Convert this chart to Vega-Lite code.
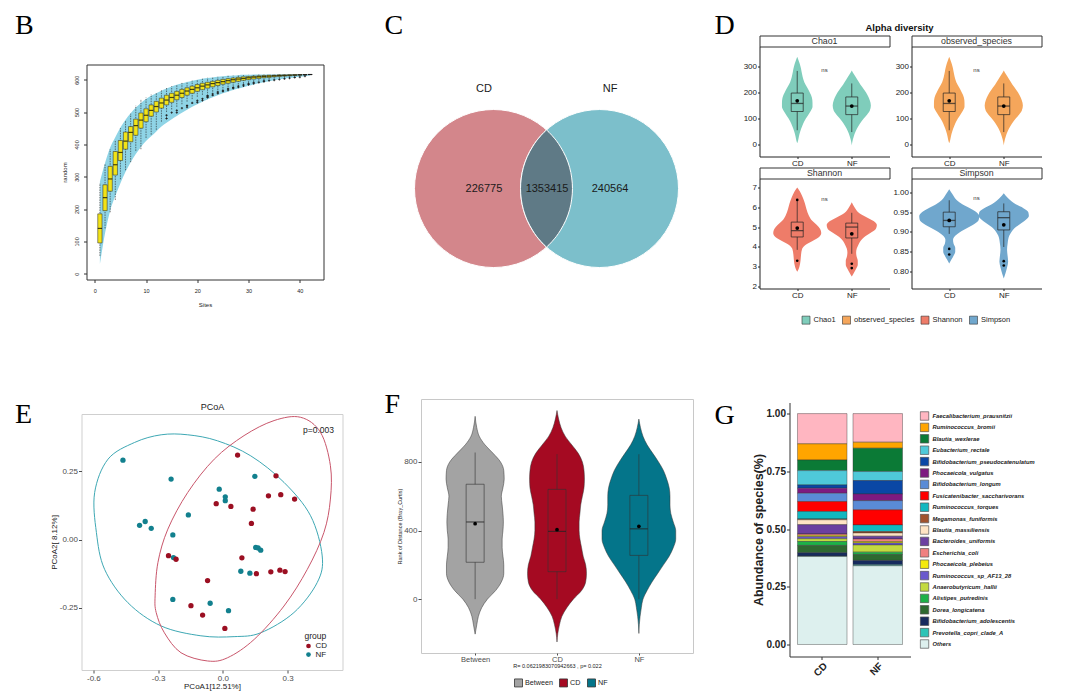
{
"$schema":"https://vega.github.io/schema/vega-lite/v6.json",
"background":"white",
"padding":{"left":13.5,"top":10.5,"right":4,"bottom":2},
"config":{
 "view":{"stroke":null},
 "font":"Liberation Sans",
 "axis":{"minExtent":0,"grid":false,"labelFlush":false,"labelOverlap":false,"titleFontWeight":"normal"},
 "legend":{"labelFont":"Liberation Sans","titleFont":"Liberation Sans"}
},
"datasets":{
 "spec":[
  {"s":1,"lo":55,"q1":95,"md":140,"q3":185,"hi":280,"bl":30,"bh":285},
  {"s":2,"lo":140,"q1":195,"md":235,"q3":275,"hi":340,"bl":125,"bh":342},
  {"s":3,"lo":190,"q1":255,"md":293,"q3":332,"hi":385,"bl":195,"bh":390},
  {"s":4,"lo":228,"q1":305,"md":337,"q3":378,"hi":412,"bl":240,"bh":422},
  {"s":5,"lo":292,"q1":350,"md":375,"q3":412,"hi":450,"bl":280,"bh":452},
  {"s":6,"lo":320,"q1":385,"md":410,"q3":438,"hi":472,"bl":315,"bh":476},
  {"s":7,"lo":345,"q1":408,"md":437,"q3":455,"hi":495,"bl":345,"bh":496},
  {"s":8,"lo":380,"q1":428,"md":458,"q3":478,"hi":520,"bl":370,"bh":514},
  {"s":9,"lo":385,"q1":450,"md":475,"q3":497,"hi":540,"bl":392,"bh":528},
  {"s":10,"lo":420,"q1":470,"md":490,"q3":510,"hi":545,"bl":410,"bh":540},
  {"s":11,"lo":430,"q1":487,"md":505,"q3":522,"hi":555,"bl":425,"bh":550},
  {"s":12,"lo":445,"q1":500,"md":517,"q3":533,"hi":560,"bl":440,"bh":558},
  {"s":13,"lo":470,"q1":512,"md":528,"q3":543,"hi":567,"bl":455,"bh":566},
  {"s":14,"lo":500,"q1":522,"md":537,"q3":552,"hi":575,"bl":467,"bh":573},
  {"s":15,"lo":508,"q1":530,"md":545,"q3":558,"hi":580,"bl":478,"bh":579},
  {"s":16,"lo":516,"q1":538,"md":552,"q3":564,"hi":585,"bl":488,"bh":584},
  {"s":17,"lo":524,"q1":545,"md":558,"q3":570,"hi":590,"bl":498,"bh":589},
  {"s":18,"lo":532,"q1":552,"md":565,"q3":575,"hi":594,"bl":507,"bh":593},
  {"s":19,"lo":540,"q1":558,"md":570,"q3":580,"hi":597,"bl":516,"bh":597},
  {"s":20,"lo":547,"q1":564,"md":575,"q3":585,"hi":600,"bl":524,"bh":600},
  {"s":21,"lo":553,"q1":569,"md":580,"q3":589,"hi":603,"bl":532,"bh":603},
  {"s":22,"lo":558,"q1":574,"md":584,"q3":592,"hi":606,"bl":539,"bh":605},
  {"s":23,"lo":563,"q1":578,"md":588,"q3":595,"hi":608,"bl":546,"bh":607},
  {"s":24,"lo":568,"q1":582,"md":591,"q3":598,"hi":609,"bl":552,"bh":609},
  {"s":25,"lo":573,"q1":586,"md":594,"q3":601,"hi":611,"bl":558,"bh":611},
  {"s":26,"lo":577,"q1":589,"md":597,"q3":603,"hi":612,"bl":563,"bh":612},
  {"s":27,"lo":581,"q1":592,"md":600,"q3":605,"hi":613,"bl":568,"bh":613},
  {"s":28,"lo":585,"q1":595,"md":602,"q3":607,"hi":614,"bl":573,"bh":614},
  {"s":29,"lo":588,"q1":598,"md":604,"q3":609,"hi":614,"bl":577,"bh":615},
  {"s":30,"lo":591,"q1":600,"md":606,"q3":610,"hi":615,"bl":581,"bh":615},
  {"s":31,"lo":594,"q1":602,"md":608,"q3":611,"hi":615,"bl":585,"bh":616},
  {"s":32,"lo":597,"q1":604,"md":609,"q3":612,"hi":616,"bl":589,"bh":616},
  {"s":33,"lo":599,"q1":606,"md":610,"q3":613,"hi":616,"bl":592,"bh":616},
  {"s":34,"lo":601,"q1":607,"md":611,"q3":614,"hi":616,"bl":595,"bh":616},
  {"s":35,"lo":603,"q1":609,"md":612,"q3":614,"hi":616,"bl":598,"bh":616},
  {"s":36,"lo":605,"q1":610,"md":613,"q3":615,"hi":616,"bl":601,"bh":616},
  {"s":37,"lo":607,"q1":611,"md":613.5,"q3":615,"hi":616,"bl":603,"bh":616},
  {"s":38,"lo":609,"q1":612,"md":614,"q3":615.5,"hi":616,"bl":605,"bh":616},
  {"s":39,"lo":610,"q1":613,"md":614.5,"q3":616,"hi":616,"bl":607,"bh":616},
  {"s":40,"lo":611,"q1":614,"md":615,"q3":616,"hi":616,"bl":609,"bh":616},
  {"s":41,"lo":613,"q1":615,"md":615.5,"q3":616,"hi":616,"bl":611,"bh":616},
  {"s":42,"lo":616,"q1":616,"md":616,"q3":616,"hi":616,"bl":613,"bh":616}
 ],
 "specout":[
  {"s":14,"v":490},{"s":14,"v":480},{"s":15,"v":498},{"s":16,"v":505},{"s":16,"v":498},{"s":17,"v":512},{"s":18,"v":520},{"s":18,"v":515},{"s":19,"v":528},{"s":20,"v":535},{"s":20,"v":530},{"s":21,"v":541},{"s":21,"v":536},{"s":22,"v":548},{"s":22,"v":545},{"s":22,"v":551},{"s":23,"v":552},{"s":23,"v":556},{"s":24,"v":558},{"s":24,"v":562},{"s":25,"v":564},{"s":25,"v":567},{"s":26,"v":568},{"s":26,"v":572},{"s":27,"v":573},{"s":27,"v":576},{"s":28,"v":577},{"s":28,"v":580},{"s":29,"v":581},{"s":29,"v":584},{"s":30,"v":585},{"s":30,"v":588},{"s":31,"v":588},{"s":31,"v":591},{"s":32,"v":592},{"s":33,"v":594},{"s":33,"v":596},{"s":34,"v":597},{"s":35,"v":599},{"s":36,"v":601},{"s":37,"v":603},{"s":38,"v":605},{"s":39,"v":607},{"s":40,"v":608},{"s":41,"v":611}
 ],
 "venn":[{"set":"CD","cx":0,"cy":0},{"set":"NF","cx":1,"cy":0}],
 "lens":[
  {"ly":0.5523,"a":0.5,"b":0.5},{"ly":0.545,"a":0.492,"b":0.508},{"ly":0.53,"a":0.476,"b":0.524},{"ly":0.5,"a":0.448,"b":0.552},{"ly":0.45,"a":0.406,"b":0.594},{"ly":0.4,"a":0.372,"b":0.628},{"ly":0.3,"a":0.318,"b":0.682},{"ly":0.2,"a":0.282,"b":0.718},{"ly":0.1,"a":0.262,"b":0.738},{"ly":0,"a":0.255,"b":0.745},{"ly":-0.1,"a":0.262,"b":0.738},{"ly":-0.2,"a":0.282,"b":0.718},{"ly":-0.3,"a":0.318,"b":0.682},{"ly":-0.4,"a":0.372,"b":0.628},{"ly":-0.45,"a":0.406,"b":0.594},{"ly":-0.5,"a":0.448,"b":0.552},{"ly":-0.53,"a":0.476,"b":0.524},{"ly":-0.545,"a":0.492,"b":0.508},{"ly":-0.5523,"a":0.5,"b":0.5}
 ],
 "vlab":[{"t":"CD","cx":-0.09,"cy":0.934},{"t":"NF","cx":1.1,"cy":0.934},{"t":"226775","cx":-0.09,"cy":0},{"t":"1353415","cx":0.505,"cy":0},{"t":"240564","cx":1.1,"cy":0}],
 "dviol":[
  {"m":"Chao1","g":"CD","v":338,"l":1,"r":1},{"m":"Chao1","g":"CD","v":320,"l":0.97,"r":1.03},{"m":"Chao1","g":"CD","v":300,"l":0.94,"r":1.06},{"m":"Chao1","g":"CD","v":280,"l":0.92,"r":1.08},{"m":"Chao1","g":"CD","v":260,"l":0.9,"r":1.1},{"m":"Chao1","g":"CD","v":240,"l":0.87,"r":1.13},{"m":"Chao1","g":"CD","v":220,"l":0.82,"r":1.18},{"m":"Chao1","g":"CD","v":200,"l":0.77,"r":1.23},{"m":"Chao1","g":"CD","v":180,"l":0.73,"r":1.27},{"m":"Chao1","g":"CD","v":160,"l":0.72,"r":1.28},{"m":"Chao1","g":"CD","v":145,"l":0.72,"r":1.28},{"m":"Chao1","g":"CD","v":130,"l":0.75,"r":1.25},{"m":"Chao1","g":"CD","v":110,"l":0.81,"r":1.19},{"m":"Chao1","g":"CD","v":90,"l":0.87,"r":1.13},{"m":"Chao1","g":"CD","v":70,"l":0.91,"r":1.09},{"m":"Chao1","g":"CD","v":50,"l":0.945,"r":1.055},{"m":"Chao1","g":"CD","v":30,"l":0.97,"r":1.03},{"m":"Chao1","g":"CD","v":15,"l":0.985,"r":1.015},{"m":"Chao1","g":"CD","v":5,"l":1,"r":1},
  {"m":"Chao1","g":"NF","v":285,"l":2,"r":2},{"m":"Chao1","g":"NF","v":270,"l":1.96,"r":2.04},{"m":"Chao1","g":"NF","v":250,"l":1.9,"r":2.1},{"m":"Chao1","g":"NF","v":230,"l":1.84,"r":2.16},{"m":"Chao1","g":"NF","v":210,"l":1.77,"r":2.23},{"m":"Chao1","g":"NF","v":190,"l":1.71,"r":2.29},{"m":"Chao1","g":"NF","v":170,"l":1.67,"r":2.33},{"m":"Chao1","g":"NF","v":150,"l":1.65,"r":2.35},{"m":"Chao1","g":"NF","v":130,"l":1.67,"r":2.33},{"m":"Chao1","g":"NF","v":110,"l":1.74,"r":2.26},{"m":"Chao1","g":"NF","v":90,"l":1.82,"r":2.18},{"m":"Chao1","g":"NF","v":70,"l":1.88,"r":2.12},{"m":"Chao1","g":"NF","v":50,"l":1.93,"r":2.07},{"m":"Chao1","g":"NF","v":30,"l":1.965,"r":2.035},{"m":"Chao1","g":"NF","v":10,"l":1.99,"r":2.01},{"m":"Chao1","g":"NF","v":-4,"l":2,"r":2},
  {"m":"observed_species","g":"CD","v":338,"l":1,"r":1},{"m":"observed_species","g":"CD","v":320,"l":0.97,"r":1.03},{"m":"observed_species","g":"CD","v":300,"l":0.94,"r":1.06},{"m":"observed_species","g":"CD","v":280,"l":0.92,"r":1.08},{"m":"observed_species","g":"CD","v":260,"l":0.9,"r":1.1},{"m":"observed_species","g":"CD","v":240,"l":0.87,"r":1.13},{"m":"observed_species","g":"CD","v":220,"l":0.82,"r":1.18},{"m":"observed_species","g":"CD","v":200,"l":0.77,"r":1.23},{"m":"observed_species","g":"CD","v":180,"l":0.73,"r":1.27},{"m":"observed_species","g":"CD","v":160,"l":0.72,"r":1.28},{"m":"observed_species","g":"CD","v":145,"l":0.72,"r":1.28},{"m":"observed_species","g":"CD","v":130,"l":0.75,"r":1.25},{"m":"observed_species","g":"CD","v":110,"l":0.81,"r":1.19},{"m":"observed_species","g":"CD","v":90,"l":0.87,"r":1.13},{"m":"observed_species","g":"CD","v":70,"l":0.91,"r":1.09},{"m":"observed_species","g":"CD","v":50,"l":0.945,"r":1.055},{"m":"observed_species","g":"CD","v":30,"l":0.97,"r":1.03},{"m":"observed_species","g":"CD","v":15,"l":0.985,"r":1.015},{"m":"observed_species","g":"CD","v":5,"l":1,"r":1},
  {"m":"observed_species","g":"NF","v":285,"l":2,"r":2},{"m":"observed_species","g":"NF","v":270,"l":1.96,"r":2.04},{"m":"observed_species","g":"NF","v":250,"l":1.9,"r":2.1},{"m":"observed_species","g":"NF","v":230,"l":1.84,"r":2.16},{"m":"observed_species","g":"NF","v":210,"l":1.77,"r":2.23},{"m":"observed_species","g":"NF","v":190,"l":1.71,"r":2.29},{"m":"observed_species","g":"NF","v":170,"l":1.67,"r":2.33},{"m":"observed_species","g":"NF","v":150,"l":1.65,"r":2.35},{"m":"observed_species","g":"NF","v":130,"l":1.67,"r":2.33},{"m":"observed_species","g":"NF","v":110,"l":1.74,"r":2.26},{"m":"observed_species","g":"NF","v":90,"l":1.82,"r":2.18},{"m":"observed_species","g":"NF","v":70,"l":1.88,"r":2.12},{"m":"observed_species","g":"NF","v":50,"l":1.93,"r":2.07},{"m":"observed_species","g":"NF","v":30,"l":1.965,"r":2.035},{"m":"observed_species","g":"NF","v":10,"l":1.99,"r":2.01},{"m":"observed_species","g":"NF","v":-4,"l":2,"r":2},
  {"m":"Shannon","g":"CD","v":7.0,"l":1,"r":1},{"m":"Shannon","g":"CD","v":6.8,"l":0.95,"r":1.05},{"m":"Shannon","g":"CD","v":6.5,"l":0.9,"r":1.1},{"m":"Shannon","g":"CD","v":6.2,"l":0.86,"r":1.14},{"m":"Shannon","g":"CD","v":5.9,"l":0.83,"r":1.17},{"m":"Shannon","g":"CD","v":5.6,"l":0.79,"r":1.21},{"m":"Shannon","g":"CD","v":5.3,"l":0.72,"r":1.28},{"m":"Shannon","g":"CD","v":5.1,"l":0.64,"r":1.36},{"m":"Shannon","g":"CD","v":4.9,"l":0.58,"r":1.42},{"m":"Shannon","g":"CD","v":4.7,"l":0.56,"r":1.44},{"m":"Shannon","g":"CD","v":4.5,"l":0.6,"r":1.4},{"m":"Shannon","g":"CD","v":4.3,"l":0.72,"r":1.28},{"m":"Shannon","g":"CD","v":4.1,"l":0.85,"r":1.15},{"m":"Shannon","g":"CD","v":3.9,"l":0.91,"r":1.09},{"m":"Shannon","g":"CD","v":3.6,"l":0.93,"r":1.07},{"m":"Shannon","g":"CD","v":3.3,"l":0.94,"r":1.06},{"m":"Shannon","g":"CD","v":3.0,"l":0.96,"r":1.04},{"m":"Shannon","g":"CD","v":2.85,"l":0.98,"r":1.02},{"m":"Shannon","g":"CD","v":2.75,"l":1,"r":1},
  {"m":"Shannon","g":"NF","v":6.25,"l":2,"r":2},{"m":"Shannon","g":"NF","v":6.0,"l":1.95,"r":2.05},{"m":"Shannon","g":"NF","v":5.7,"l":1.86,"r":2.14},{"m":"Shannon","g":"NF","v":5.5,"l":1.73,"r":2.27},{"m":"Shannon","g":"NF","v":5.3,"l":1.6,"r":2.4},{"m":"Shannon","g":"NF","v":5.1,"l":1.54,"r":2.46},{"m":"Shannon","g":"NF","v":4.9,"l":1.56,"r":2.44},{"m":"Shannon","g":"NF","v":4.7,"l":1.66,"r":2.34},{"m":"Shannon","g":"NF","v":4.5,"l":1.77,"r":2.23},{"m":"Shannon","g":"NF","v":4.3,"l":1.84,"r":2.16},{"m":"Shannon","g":"NF","v":4.1,"l":1.88,"r":2.12},{"m":"Shannon","g":"NF","v":3.9,"l":1.91,"r":2.09},{"m":"Shannon","g":"NF","v":3.7,"l":1.92,"r":2.08},{"m":"Shannon","g":"NF","v":3.5,"l":1.91,"r":2.09},{"m":"Shannon","g":"NF","v":3.3,"l":1.89,"r":2.11},{"m":"Shannon","g":"NF","v":3.1,"l":1.89,"r":2.11},{"m":"Shannon","g":"NF","v":2.9,"l":1.92,"r":2.08},{"m":"Shannon","g":"NF","v":2.7,"l":1.96,"r":2.04},{"m":"Shannon","g":"NF","v":2.5,"l":2,"r":2},
  {"m":"Simpson","g":"CD","v":1.008,"l":1,"r":1},{"m":"Simpson","g":"CD","v":0.995,"l":0.94,"r":1.06},{"m":"Simpson","g":"CD","v":0.98,"l":0.86,"r":1.14},{"m":"Simpson","g":"CD","v":0.97,"l":0.76,"r":1.24},{"m":"Simpson","g":"CD","v":0.96,"l":0.62,"r":1.38},{"m":"Simpson","g":"CD","v":0.95,"l":0.5,"r":1.5},{"m":"Simpson","g":"CD","v":0.94,"l":0.45,"r":1.55},{"m":"Simpson","g":"CD","v":0.93,"l":0.46,"r":1.54},{"m":"Simpson","g":"CD","v":0.92,"l":0.54,"r":1.46},{"m":"Simpson","g":"CD","v":0.91,"l":0.67,"r":1.33},{"m":"Simpson","g":"CD","v":0.9,"l":0.8,"r":1.2},{"m":"Simpson","g":"CD","v":0.89,"l":0.89,"r":1.11},{"m":"Simpson","g":"CD","v":0.88,"l":0.93,"r":1.07},{"m":"Simpson","g":"CD","v":0.87,"l":0.92,"r":1.08},{"m":"Simpson","g":"CD","v":0.86,"l":0.89,"r":1.11},{"m":"Simpson","g":"CD","v":0.85,"l":0.89,"r":1.11},{"m":"Simpson","g":"CD","v":0.84,"l":0.92,"r":1.08},{"m":"Simpson","g":"CD","v":0.83,"l":0.96,"r":1.04},{"m":"Simpson","g":"CD","v":0.82,"l":1,"r":1},
  {"m":"Simpson","g":"NF","v":0.998,"l":2,"r":2},{"m":"Simpson","g":"NF","v":0.985,"l":1.92,"r":2.08},{"m":"Simpson","g":"NF","v":0.97,"l":1.78,"r":2.22},{"m":"Simpson","g":"NF","v":0.96,"l":1.64,"r":2.36},{"m":"Simpson","g":"NF","v":0.95,"l":1.55,"r":2.45},{"m":"Simpson","g":"NF","v":0.94,"l":1.54,"r":2.46},{"m":"Simpson","g":"NF","v":0.93,"l":1.6,"r":2.4},{"m":"Simpson","g":"NF","v":0.92,"l":1.7,"r":2.3},{"m":"Simpson","g":"NF","v":0.91,"l":1.8,"r":2.2},{"m":"Simpson","g":"NF","v":0.9,"l":1.86,"r":2.14},{"m":"Simpson","g":"NF","v":0.89,"l":1.9,"r":2.1},{"m":"Simpson","g":"NF","v":0.87,"l":1.93,"r":2.07},{"m":"Simpson","g":"NF","v":0.855,"l":1.94,"r":2.06},{"m":"Simpson","g":"NF","v":0.84,"l":1.93,"r":2.07},{"m":"Simpson","g":"NF","v":0.825,"l":1.92,"r":2.08},{"m":"Simpson","g":"NF","v":0.81,"l":1.94,"r":2.06},{"m":"Simpson","g":"NF","v":0.795,"l":1.97,"r":2.03},{"m":"Simpson","g":"NF","v":0.782,"l":2,"r":2}
 ],
 "dbox":[
  {"m":"Chao1","gx":1,"lo":55,"q1":127,"md":158,"q3":198,"hi":283,"mean":168},
  {"m":"Chao1","gx":2,"lo":48,"q1":115,"md":148,"q3":183,"hi":235,"mean":148},
  {"m":"observed_species","gx":1,"lo":55,"q1":127,"md":158,"q3":198,"hi":283,"mean":168},
  {"m":"observed_species","gx":2,"lo":48,"q1":115,"md":148,"q3":183,"hi":235,"mean":148},
  {"m":"Shannon","gx":1,"lo":3.85,"q1":4.5,"md":4.82,"q3":5.25,"hi":6.37,"mean":4.95},
  {"m":"Shannon","gx":2,"lo":3.65,"q1":4.45,"md":5.0,"q3":5.2,"hi":5.72,"mean":4.66},
  {"m":"Simpson","gx":1,"lo":0.895,"q1":0.913,"md":0.929,"q3":0.95,"hi":0.98,"mean":0.929},
  {"m":"Simpson","gx":2,"lo":0.862,"q1":0.905,"md":0.936,"q3":0.951,"hi":0.972,"mean":0.918}
 ],
 "dout":[
  {"m":"Shannon","gx":1,"v":3.3},{"m":"Shannon","gx":1,"v":6.37},{"m":"Shannon","gx":2,"v":3.15},{"m":"Shannon","gx":2,"v":2.93},
  {"m":"Simpson","gx":1,"v":0.857},{"m":"Simpson","gx":1,"v":0.843},{"m":"Simpson","gx":2,"v":0.826},{"m":"Simpson","gx":2,"v":0.815}
 ],
 "dns":[{"m":"Chao1","t":"ns","v":288},{"m":"observed_species","t":"ns","v":288},{"m":"Shannon","t":"ns","v":6.44},{"m":"Simpson","t":"ns","v":0.985}],
 "epts":[
  {"group":"NF","x":-0.463,"y":0.29},{"group":"NF","x":-0.24,"y":0.221},{"group":"NF","x":0.148,"y":0.231},{"group":"NF","x":-0.017,"y":0.184},{"group":"NF","x":0.011,"y":0.156},{"group":"NF","x":0.011,"y":0.142},{"group":"NF","x":-0.16,"y":0.09},{"group":"NF","x":-0.386,"y":0.052},{"group":"NF","x":-0.36,"y":0.066},{"group":"NF","x":-0.332,"y":0.041},{"group":"NF","x":-0.232,"y":0.017},{"group":"NF","x":-0.229,"y":-0.066},{"group":"NF","x":0.152,"y":-0.029},{"group":"NF","x":0.163,"y":-0.031},{"group":"NF","x":0.175,"y":-0.039},{"group":"NF","x":0.083,"y":-0.116},{"group":"NF","x":0.125,"y":-0.123},{"group":"NF","x":-0.232,"y":-0.219},{"group":"NF","x":-0.059,"y":-0.233},{"group":"NF","x":0.026,"y":-0.26},
  {"group":"CD","x":0.068,"y":0.309},{"group":"CD","x":0.246,"y":0.233},{"group":"CD","x":0.211,"y":0.16},{"group":"CD","x":0.268,"y":0.164},{"group":"CD","x":0.332,"y":0.148},{"group":"CD","x":-0.031,"y":0.131},{"group":"CD","x":0.037,"y":0.121},{"group":"CD","x":0.14,"y":0.111},{"group":"CD","x":0.132,"y":0.059},{"group":"CD","x":-0.252,"y":-0.059},{"group":"CD","x":-0.217,"y":-0.072},{"group":"CD","x":0.088,"y":-0.067},{"group":"CD","x":0.155,"y":-0.125},{"group":"CD","x":0.222,"y":-0.118},{"group":"CD","x":0.264,"y":-0.112},{"group":"CD","x":0.288,"y":-0.117},{"group":"CD","x":-0.071,"y":-0.15},{"group":"CD","x":-0.148,"y":-0.242},{"group":"CD","x":-0.094,"y":-0.276},{"group":"CD","x":0.009,"y":-0.325}
 ],
 "eell":[
  {"group":"NF","i":0,"x":-0.594,"y":0.172},{"group":"NF","i":1,"x":-0.532,"y":0.294},{"group":"NF","i":2,"x":-0.409,"y":0.355},{"group":"NF","i":3,"x":-0.286,"y":0.383},{"group":"NF","i":4,"x":-0.163,"y":0.383},{"group":"NF","i":5,"x":-0.025,"y":0.361},{"group":"NF","i":6,"x":0.129,"y":0.306},{"group":"NF","i":7,"x":0.283,"y":0.209},{"group":"NF","i":8,"x":0.406,"y":0.087},{"group":"NF","i":9,"x":0.46,"y":-0.06},{"group":"NF","i":10,"x":0.437,"y":-0.157},{"group":"NF","i":11,"x":0.329,"y":-0.267},{"group":"NF","i":12,"x":0.175,"y":-0.341},{"group":"NF","i":13,"x":0.052,"y":-0.355},{"group":"NF","i":14,"x":-0.102,"y":-0.352},{"group":"NF","i":15,"x":-0.286,"y":-0.316},{"group":"NF","i":16,"x":-0.44,"y":-0.231},{"group":"NF","i":17,"x":-0.548,"y":-0.109},{"group":"NF","i":18,"x":-0.586,"y":0.026},
  {"group":"CD","i":0,"x":-0.314,"y":-0.206},{"group":"CD","i":1,"x":-0.301,"y":-0.084},{"group":"CD","i":2,"x":-0.255,"y":0.038},{"group":"CD","i":3,"x":-0.163,"y":0.172},{"group":"CD","i":4,"x":-0.04,"y":0.294},{"group":"CD","i":5,"x":0.098,"y":0.38},{"group":"CD","i":6,"x":0.237,"y":0.435},{"group":"CD","i":7,"x":0.36,"y":0.447},{"group":"CD","i":8,"x":0.452,"y":0.392},{"group":"CD","i":9,"x":0.498,"y":0.27},{"group":"CD","i":10,"x":0.498,"y":0.148},{"group":"CD","i":11,"x":0.468,"y":0.026},{"group":"CD","i":12,"x":0.391,"y":-0.109},{"group":"CD","i":13,"x":0.283,"y":-0.243},{"group":"CD","i":14,"x":0.145,"y":-0.365},{"group":"CD","i":15,"x":0.022,"y":-0.432},{"group":"CD","i":16,"x":-0.071,"y":-0.444},{"group":"CD","i":17,"x":-0.194,"y":-0.414},{"group":"CD","i":18,"x":-0.271,"y":-0.341},{"group":"CD","i":19,"x":-0.309,"y":-0.267}
 ],
 "fviol":[
  {"g":"Between","v":1066,"l":1,"r":1},{"g":"Between","v":1000,"l":0.98,"r":1.02},{"g":"Between","v":950,"l":0.95,"r":1.05},{"g":"Between","v":900,"l":0.88,"r":1.12},{"g":"Between","v":850,"l":0.78,"r":1.22},{"g":"Between","v":800,"l":0.69,"r":1.31},{"g":"Between","v":750,"l":0.65,"r":1.35},{"g":"Between","v":700,"l":0.645,"r":1.355},{"g":"Between","v":650,"l":0.66,"r":1.34},{"g":"Between","v":600,"l":0.68,"r":1.32},{"g":"Between","v":550,"l":0.67,"r":1.33},{"g":"Between","v":500,"l":0.66,"r":1.34},{"g":"Between","v":450,"l":0.655,"r":1.345},{"g":"Between","v":400,"l":0.66,"r":1.34},{"g":"Between","v":350,"l":0.67,"r":1.33},{"g":"Between","v":300,"l":0.67,"r":1.33},{"g":"Between","v":250,"l":0.66,"r":1.34},{"g":"Between","v":200,"l":0.65,"r":1.35},{"g":"Between","v":150,"l":0.65,"r":1.35},{"g":"Between","v":100,"l":0.68,"r":1.32},{"g":"Between","v":50,"l":0.75,"r":1.25},{"g":"Between","v":0,"l":0.85,"r":1.15},{"g":"Between","v":-50,"l":0.92,"r":1.08},{"g":"Between","v":-100,"l":0.96,"r":1.04},{"g":"Between","v":-150,"l":0.98,"r":1.02},{"g":"Between","v":-204,"l":1,"r":1},
  {"g":"CD","v":1100,"l":2,"r":2},{"g":"CD","v":1050,"l":1.98,"r":2.02},{"g":"CD","v":1000,"l":1.95,"r":2.05},{"g":"CD","v":950,"l":1.9,"r":2.1},{"g":"CD","v":900,"l":1.82,"r":2.18},{"g":"CD","v":850,"l":1.74,"r":2.26},{"g":"CD","v":800,"l":1.69,"r":2.31},{"g":"CD","v":750,"l":1.67,"r":2.33},{"g":"CD","v":700,"l":1.665,"r":2.335},{"g":"CD","v":650,"l":1.67,"r":2.33},{"g":"CD","v":600,"l":1.69,"r":2.31},{"g":"CD","v":550,"l":1.71,"r":2.29},{"g":"CD","v":500,"l":1.72,"r":2.28},{"g":"CD","v":450,"l":1.73,"r":2.27},{"g":"CD","v":400,"l":1.73,"r":2.27},{"g":"CD","v":350,"l":1.72,"r":2.28},{"g":"CD","v":300,"l":1.7,"r":2.3},{"g":"CD","v":250,"l":1.68,"r":2.32},{"g":"CD","v":200,"l":1.65,"r":2.35},{"g":"CD","v":150,"l":1.64,"r":2.36},{"g":"CD","v":100,"l":1.65,"r":2.35},{"g":"CD","v":50,"l":1.7,"r":2.3},{"g":"CD","v":0,"l":1.8,"r":2.2},{"g":"CD","v":-50,"l":1.88,"r":2.12},{"g":"CD","v":-100,"l":1.94,"r":2.06},{"g":"CD","v":-150,"l":1.97,"r":2.03},{"g":"CD","v":-200,"l":1.99,"r":2.01},{"g":"CD","v":-250,"l":2,"r":2},
  {"g":"NF","v":1050,"l":3,"r":3},{"g":"NF","v":1000,"l":2.98,"r":3.02},{"g":"NF","v":950,"l":2.95,"r":3.05},{"g":"NF","v":900,"l":2.9,"r":3.1},{"g":"NF","v":850,"l":2.83,"r":3.17},{"g":"NF","v":800,"l":2.76,"r":3.24},{"g":"NF","v":750,"l":2.7,"r":3.3},{"g":"NF","v":700,"l":2.66,"r":3.34},{"g":"NF","v":650,"l":2.63,"r":3.37},{"g":"NF","v":600,"l":2.62,"r":3.38},{"g":"NF","v":550,"l":2.62,"r":3.38},{"g":"NF","v":500,"l":2.61,"r":3.39},{"g":"NF","v":450,"l":2.58,"r":3.42},{"g":"NF","v":400,"l":2.55,"r":3.45},{"g":"NF","v":350,"l":2.55,"r":3.45},{"g":"NF","v":300,"l":2.58,"r":3.42},{"g":"NF","v":250,"l":2.63,"r":3.37},{"g":"NF","v":200,"l":2.7,"r":3.3},{"g":"NF","v":150,"l":2.77,"r":3.23},{"g":"NF","v":100,"l":2.84,"r":3.16},{"g":"NF","v":50,"l":2.9,"r":3.1},{"g":"NF","v":0,"l":2.95,"r":3.05},{"g":"NF","v":-50,"l":2.97,"r":3.03},{"g":"NF","v":-100,"l":2.985,"r":3.015},{"g":"NF","v":-150,"l":2.995,"r":3.005},{"g":"NF","v":-200,"l":3,"r":3}
 ],
 "fbox":[
  {"g":"Between","gx":1,"lo":0,"q1":215,"md":450,"q3":670,"hi":855,"mean":440},
  {"g":"CD","gx":2,"lo":0,"q1":160,"md":395,"q3":640,"hi":845,"mean":405},
  {"g":"NF","gx":3,"lo":0,"q1":255,"md":410,"q3":605,"hi":845,"mean":425}
 ],
 "gdat":[
  {"grp":"CD","k":1,"sp":"Faecalibacterium_prausnitzii","ab":0.131},{"grp":"CD","k":2,"sp":"Ruminococcus_bromii","ab":0.07},{"grp":"CD","k":3,"sp":"Blautia_wexlerae","ab":0.046},{"grp":"CD","k":4,"sp":"Eubacterium_rectale","ab":0.062},{"grp":"CD","k":5,"sp":"Bifidobacterium_pseudocatenulatum","ab":0.014},{"grp":"CD","k":6,"sp":"Phocaeicola_vulgatus","ab":0.022},{"grp":"CD","k":7,"sp":"Bifidobacterium_longum","ab":0.036},{"grp":"CD","k":8,"sp":"Fusicatenibacter_saccharivorans","ab":0.043},{"grp":"CD","k":9,"sp":"Ruminococcus_torques","ab":0.032},{"grp":"CD","k":10,"sp":"Megamonas_funiformis","ab":0.004},{"grp":"CD","k":11,"sp":"Blautia_massiliensis","ab":0.021},{"grp":"CD","k":12,"sp":"Bacteroides_uniformis","ab":0.04},{"grp":"CD","k":13,"sp":"Escherichia_coli","ab":0.006},{"grp":"CD","k":14,"sp":"Phocaeicola_plebeius","ab":0.006},{"grp":"CD","k":15,"sp":"Ruminococcus_sp_AF13_28","ab":0.009},{"grp":"CD","k":16,"sp":"Anaerobutyricum_hallii","ab":0.012},{"grp":"CD","k":17,"sp":"Alistipes_putredinis","ab":0.017},{"grp":"CD","k":18,"sp":"Dorea_longicatena","ab":0.032},{"grp":"CD","k":19,"sp":"Bifidobacterium_adolescentis","ab":0.014},{"grp":"CD","k":20,"sp":"Prevotella_copri_clade_A","ab":0.002},{"grp":"CD","k":21,"sp":"Others","ab":0.381},
  {"grp":"NF","k":1,"sp":"Faecalibacterium_prausnitzii","ab":0.124},{"grp":"NF","k":2,"sp":"Ruminococcus_bromii","ab":0.026},{"grp":"NF","k":3,"sp":"Blautia_wexlerae","ab":0.101},{"grp":"NF","k":4,"sp":"Eubacterium_rectale","ab":0.039},{"grp":"NF","k":5,"sp":"Bifidobacterium_pseudocatenulatum","ab":0.058},{"grp":"NF","k":6,"sp":"Phocaeicola_vulgatus","ab":0.029},{"grp":"NF","k":7,"sp":"Bifidobacterium_longum","ab":0.04},{"grp":"NF","k":8,"sp":"Fusicatenibacter_saccharivorans","ab":0.065},{"grp":"NF","k":9,"sp":"Ruminococcus_torques","ab":0.029},{"grp":"NF","k":10,"sp":"Megamonas_funiformis","ab":0.006},{"grp":"NF","k":11,"sp":"Blautia_massiliensis","ab":0.014},{"grp":"NF","k":12,"sp":"Bacteroides_uniformis","ab":0.012},{"grp":"NF","k":13,"sp":"Escherichia_coli","ab":0.011},{"grp":"NF","k":14,"sp":"Phocaeicola_plebeius","ab":0.006},{"grp":"NF","k":15,"sp":"Ruminococcus_sp_AF13_28","ab":0.009},{"grp":"NF","k":16,"sp":"Anaerobutyricum_hallii","ab":0.031},{"grp":"NF","k":17,"sp":"Alistipes_putredinis","ab":0.01},{"grp":"NF","k":18,"sp":"Dorea_longicatena","ab":0.026},{"grp":"NF","k":19,"sp":"Bifidobacterium_adolescentis","ab":0.019},{"grp":"NF","k":20,"sp":"Prevotella_copri_clade_A","ab":0.004},{"grp":"NF","k":21,"sp":"Others","ab":0.341}
 ]
},
"resolve":{"scale":{"fill":"independent","color":"independent","stroke":"independent"}},
"spacing":39.5,
"hconcat":[
 {"vconcat":[
  {"vconcat":[
   {"width":1,"height":1,"data":{"values":[{}]},"mark":{"type":"rect","opacity":0}},
   {"hconcat":[
    {"width":1,"height":1,"data":{"values":[{}]},"mark":{"type":"rect","opacity":0}},
    {"width":237,"height":215,
     "title":{"text":"B","anchor":"start","frame":"group","dx":-71.5,"offset":24.5,"baseline":"top","font":"Liberation Serif","fontSize":28,"fontWeight":"normal","color":"#000"},
     "view":{"stroke":"#333","strokeWidth":1},
     "layer":[
      {"data":{"name":"spec"},"mark":{"type":"area","color":"#8fd4e6","interpolate":"monotone"},
       "encoding":{"x":{"field":"s","type":"quantitative","scale":{"domain":[-0.64,43.64],"nice":false,"zero":false},"axis":{"values":[0,10,20,30,40],"tickCount":20,"labelOverlap":false,"title":"Sites","titleFontSize":6,"titlePadding":7.5,"labelFontSize":5.5,"labelPadding":6,"tickSize":3,"domain":false,"labelColor":"#222","titleColor":"#222","tickColor":"#333"}},
        "y":{"field":"bl","type":"quantitative","stack":null,"scale":{"domain":[-18,647],"nice":false,"zero":false},"axis":{"values":[0,100,200,300,400,500,600],"tickCount":20,"labelOverlap":false,"title":"random","titleFontSize":6,"titlePadding":7,"labelFontSize":5.5,"labelAngle":-90,"labelAlign":"center","labelBaseline":"bottom","labelPadding":4,"tickSize":3,"domain":false,"labelColor":"#222","titleColor":"#222","tickColor":"#333"}},
        "y2":{"field":"bh"}}},
      {"data":{"name":"spec"},"mark":{"type":"rule","strokeDash":[1.5,1],"strokeWidth":0.6,"color":"#222"},
       "encoding":{"x":{"field":"s","type":"quantitative","scale":{"domain":[-0.64,43.64],"nice":false,"zero":false}},"y":{"field":"lo","type":"quantitative","scale":{"domain":[-18,647],"nice":false,"zero":false}},"y2":{"field":"hi"}}},
      {"data":{"name":"spec"},"mark":{"type":"bar","size":4.3,"color":"#f2e318","stroke":"#222","strokeWidth":0.5},
       "encoding":{"x":{"field":"s","type":"quantitative","scale":{"domain":[-0.64,43.64],"nice":false,"zero":false}},"y":{"field":"q1","type":"quantitative","scale":{"domain":[-18,647],"nice":false,"zero":false}},"y2":{"field":"q3"}}},
      {"data":{"name":"spec"},"mark":{"type":"tick","orient":"horizontal","size":4.3,"thickness":1.2,"color":"#000"},
       "encoding":{"x":{"field":"s","type":"quantitative","scale":{"domain":[-0.64,43.64],"nice":false,"zero":false}},"y":{"field":"md","type":"quantitative","scale":{"domain":[-18,647],"nice":false,"zero":false}}}},
      {"data":{"name":"specout"},"mark":{"type":"point","shape":"cross","size":5,"filled":true,"opacity":1,"color":"#222"},
       "encoding":{"x":{"field":"s","type":"quantitative","scale":{"domain":[-0.64,43.64],"nice":false,"zero":false}},"y":{"field":"v","type":"quantitative","scale":{"domain":[-18,647],"nice":false,"zero":false}}}}
     ]}
   ],"spacing":0,"resolve":{"scale":{"fill":"independent","color":"independent","stroke":"independent"}}}
  ],"spacing":0,"resolve":{"scale":{"fill":"independent","color":"independent","stroke":"independent"}}},
  {"hconcat":[
   {"width":1,"height":1,"data":{"values":[{}]},"mark":{"type":"rect","opacity":0}},
   {"width":261,"height":256,
    "title":{"text":"E","anchor":"start","frame":"group","dx":-66.5,"offset":-25.8,"baseline":"top","font":"Liberation Serif","fontSize":28,"fontWeight":"normal","color":"#000"},
    "view":{"stroke":"#cfcfcf","strokeWidth":1},
    "resolve":{"axis":{"x":"independent"}},
    "layer":[
     {"data":{"name":"eell"},"mark":{"type":"line","interpolate":"cardinal-closed","strokeWidth":1},
      "encoding":{"x":{"field":"x","type":"quantitative","scale":{"domain":[-0.655,0.554],"nice":false,"zero":false},"axis":{"orient":"bottom","values":[-0.6,-0.3,0,0.3],"tickCount":20,"labelOverlap":false,"format":".1f","labelExpr":"replace(datum.label,'−','-')","title":"PCoA1[12.51%]","titleFontSize":8,"titlePadding":0,"titleColor":"#222","labelFontSize":8,"labelPadding":1,"tickSize":3,"domain":false,"labelColor":"#4d4d4d","tickColor":"#4d4d4d"}},
       "y":{"field":"y","type":"quantitative","scale":{"domain":[-0.477,0.459],"nice":false,"zero":false},"axis":{"values":[-0.25,0,0.25],"tickCount":20,"labelOverlap":false,"format":".2f","labelExpr":"replace(datum.label,'−','-')","title":"PCoA2[ 8.12%]","titleFontSize":8,"titlePadding":0.5,"titleColor":"#222","labelFontSize":8,"labelPadding":1,"tickSize":3,"domain":false,"labelColor":"#4d4d4d","tickColor":"#4d4d4d"}},
       "stroke":{"field":"group","type":"nominal","scale":{"domain":["NF","CD"],"range":["#3ea8b4","#c9566b"]},"legend":null},
       "order":{"field":"i"}}},
     {"data":{"name":"epts"},"mark":{"type":"point","filled":true,"size":28,"opacity":1},
      "encoding":{"x":{"field":"x","type":"quantitative","scale":{"domain":[-0.655,0.554],"nice":false,"zero":false},"axis":null},
       "y":{"field":"y","type":"quantitative","scale":{"domain":[-0.477,0.459],"nice":false,"zero":false}},
       "fill":{"field":"group","type":"nominal","scale":{"domain":["CD","NF"],"range":["#9b0f22","#12808e"]},"legend":{"orient":"none","legendX":223,"legendY":217.5,"title":"group","titleFontSize":8.5,"titleFontWeight":"normal","titleColor":"#222","titlePadding":2,"labelFontSize":8,"labelColor":"#222","symbolType":"circle","symbolSize":22,"rowPadding":0.6,"labelOffset":3}}}},
     {"data":{"values":[{"t":"p=0.003","x":0.443,"y":0.399}]},"mark":{"type":"text","fontSize":8.5,"color":"#222"},
      "encoding":{"x":{"field":"x","type":"quantitative","scale":{"domain":[-0.655,0.554],"nice":false,"zero":false},"axis":{"orient":"top","title":"PCoA","titleFontSize":9,"titleColor":"#222","titlePadding":2.3,"labels":false,"ticks":false,"domain":false}},
       "y":{"field":"y","type":"quantitative","scale":{"domain":[-0.477,0.459],"nice":false,"zero":false}},
       "text":{"field":"t"}}}
    ]}
  ],"spacing":0,"resolve":{"scale":{"fill":"independent","color":"independent","stroke":"independent"}}}
 ],"spacing":91.5,"resolve":{"scale":{"fill":"independent","color":"independent","stroke":"independent"}}},
 {"hconcat":[
  {"vconcat":[
   {"vconcat":[
    {"width":1,"height":1,"data":{"values":[{}]},"mark":{"type":"rect","opacity":0}},
    {"hconcat":[
     {"width":1,"height":1,"data":{"values":[{}]},"mark":{"type":"rect","opacity":0}},
     {"width":272,"height":244,
      "title":{"text":"C","anchor":"start","frame":"group","dx":-36.5,"offset":-4.5,"baseline":"top","font":"Liberation Serif","fontSize":28,"fontWeight":"normal","color":"#000"},
      "layer":[
       {"data":{"name":"venn"},"mark":{"type":"point","filled":true,"size":24964,"opacity":1,"stroke":"white","strokeWidth":1,"strokeOpacity":1},
        "encoding":{"x":{"field":"cx","type":"quantitative","scale":{"domain":[-0.684,1.882],"nice":false,"zero":false},"axis":null},
         "y":{"field":"cy","type":"quantitative","scale":{"domain":[-0.858,1.443],"nice":false,"zero":false},"axis":null},
         "fill":{"field":"set","type":"nominal","scale":{"domain":["CD","NF"],"range":["#d3868b","#7cbfcb"]},"legend":null}}},
       {"data":{"name":"lens"},"mark":{"type":"area","orient":"horizontal","interpolate":"monotone","color":"#5f7a86","stroke":"white","strokeWidth":1},
        "encoding":{"y":{"field":"ly","type":"quantitative","scale":{"domain":[-0.858,1.443],"nice":false,"zero":false},"axis":null},
         "x":{"field":"a","type":"quantitative","stack":null,"scale":{"domain":[-0.684,1.882],"nice":false,"zero":false},"axis":null},
         "x2":{"field":"b"}}},
       {"data":{"name":"vlab"},"mark":{"type":"text","fontSize":11,"color":"#1a1a1a"},
        "encoding":{"x":{"field":"cx","type":"quantitative","scale":{"domain":[-0.684,1.882],"nice":false,"zero":false},"axis":null},
         "y":{"field":"cy","type":"quantitative","scale":{"domain":[-0.858,1.443],"nice":false,"zero":false},"axis":null},
         "text":{"field":"t"}}}
      ]}
    ],"spacing":0,"resolve":{"scale":{"fill":"independent","color":"independent","stroke":"independent"}}}
   ],"spacing":0,"resolve":{"scale":{"fill":"independent","color":"independent","stroke":"independent"}}},
   {"hconcat":[
    {"width":1,"height":1,"data":{"values":[{}]},"mark":{"type":"rect","opacity":0}},
    {"width":272,"height":254,
     "title":{"text":"F","anchor":"start","frame":"group","dx":-36.5,"offset":-19.5,"baseline":"top","font":"Liberation Serif","fontSize":28,"fontWeight":"normal","color":"#000"},
     "view":{"stroke":"#c8c8c8","strokeWidth":1},
     "layer":[
      {"data":{"name":"fviol"},"mark":{"type":"area","orient":"horizontal","interpolate":"monotone","stroke":"#333","strokeWidth":0.5},
       "encoding":{"y":{"field":"v","type":"quantitative","scale":{"domain":[-314,1167],"nice":false,"zero":false},"axis":{"values":[0,400,800],"tickCount":20,"labelOverlap":false,"title":"Rank of Distance (Bray_Curtis)","titleFontSize":5.5,"titlePadding":1,"titleColor":"#222","labelFontSize":8,"labelPadding":1,"tickSize":3,"domain":false,"labelColor":"#4d4d4d","tickColor":"#4d4d4d"}},
        "x":{"field":"l","type":"quantitative","stack":null,"scale":{"domain":[0.4,3.6],"nice":false,"zero":false},"axis":{"values":[1,2,3],"tickCount":20,"labelOverlap":false,"labelExpr":"datum.value==1?'Between':datum.value==2?'CD':'NF'","title":"R= 0.0621983070942663 , p= 0.022","titleFontSize":5.5,"titlePadding":1,"titleColor":"#222","labelFontSize":7.5,"labelPadding":0,"tickSize":2,"domain":false,"labelColor":"#4d4d4d","tickColor":"#4d4d4d"}},
        "x2":{"field":"r"},
        "fill":{"field":"g","type":"nominal","scale":{"domain":["Between","CD","NF"],"range":["#a3a3a3","#a50a22","#04758a"]},"legend":{"orient":"none","legendX":93,"legendY":279,"direction":"horizontal","columns":3,"title":null,"symbolType":"square","symbolSize":64,"symbolStrokeColor":"#333","symbolStrokeWidth":0.8,"symbolOpacity":1,"labelFontSize":7.2,"labelColor":"#222","columnPadding":4,"labelOffset":2}}}},
      {"data":{"name":"fbox"},"mark":{"type":"rule","color":"#333","strokeWidth":0.6},
       "encoding":{"x":{"field":"gx","type":"quantitative","scale":{"domain":[0.4,3.6],"nice":false,"zero":false}},"y":{"field":"lo","type":"quantitative","scale":{"domain":[-314,1167],"nice":false,"zero":false}},"y2":{"field":"q1"}}},
      {"data":{"name":"fbox"},"mark":{"type":"rule","color":"#333","strokeWidth":0.6},
       "encoding":{"x":{"field":"gx","type":"quantitative","scale":{"domain":[0.4,3.6],"nice":false,"zero":false}},"y":{"field":"q3","type":"quantitative","scale":{"domain":[-314,1167],"nice":false,"zero":false}},"y2":{"field":"hi"}}},
      {"data":{"name":"fbox"},"mark":{"type":"bar","size":18,"fillOpacity":0,"stroke":"#333","strokeWidth":0.6},
       "encoding":{"x":{"field":"gx","type":"quantitative","scale":{"domain":[0.4,3.6],"nice":false,"zero":false}},"y":{"field":"q1","type":"quantitative","scale":{"domain":[-314,1167],"nice":false,"zero":false}},"y2":{"field":"q3"}}},
      {"data":{"name":"fbox"},"mark":{"type":"tick","orient":"horizontal","size":18,"thickness":1.2,"color":"#222"},
       "encoding":{"x":{"field":"gx","type":"quantitative","scale":{"domain":[0.4,3.6],"nice":false,"zero":false}},"y":{"field":"md","type":"quantitative","scale":{"domain":[-314,1167],"nice":false,"zero":false}}}},
      {"data":{"name":"fbox"},"mark":{"type":"point","filled":true,"size":14,"opacity":1,"color":"#000"},
       "encoding":{"x":{"field":"gx","type":"quantitative","scale":{"domain":[0.4,3.6],"nice":false,"zero":false}},"y":{"field":"mean","type":"quantitative","scale":{"domain":[-314,1167],"nice":false,"zero":false}}}}
     ]}
   ],"spacing":0,"resolve":{"scale":{"fill":"independent","color":"independent","stroke":"independent"}}}
  ],"spacing":110.5,"resolve":{"scale":{"fill":"independent","color":"independent","stroke":"independent"}}},
  {"vconcat":[
   {"vconcat":[
    {"width":1,"height":1,"data":{"values":[{}]},"mark":{"type":"rect","opacity":0}},
    {"hconcat":[
     {"width":1,"height":1,"data":{"values":[{}]},"mark":{"type":"rect","opacity":0}},
     {"title":{"text":"D","anchor":"start","frame":"group","dx":-45,"offset":-16.4,"baseline":"top","font":"Liberation Serif","fontSize":28,"fontWeight":"normal","color":"#000"},
      "resolve":{"scale":{"fill":"independent","color":"independent","stroke":"independent"}},
      "vconcat":[
       {"title":{"text":"Alpha diversity","anchor":"start","frame":"group","fontSize":9.5,"fontWeight":"bold","color":"#111","baseline":"top","offset":2.4,"dx":106},
        "spacing":-1.5,
        "vconcat":[
         {"hconcat":[
          {"vconcat":[
            {"width":130,"height":11,"data":{"values":[{"t":"Chao1"}]},"mark":{"type":"text","fontSize":8.8,"color":"#333","baseline":"middle"},"encoding":{"text":{"field":"t"}},"view":{"stroke":"#333","strokeWidth":1}},
            {"width":130,"height":110,
             "layer":[
              {"data":{"name":"dviol"},"transform":[{"filter":"datum.m=='Chao1'"}],"mark":{"type":"area","orient":"horizontal","interpolate":"monotone"},
               "encoding":{"y":{"field":"v","type":"quantitative","scale":{"domain":[-46,377],"nice":false,"zero":false},"axis":{"values":[0,100,200,300],"tickCount":20,"labelOverlap":false,"format":"d","title":" ","titleFontSize":1,"titlePadding":0,"minExtent":20,"maxExtent":20,"domainColor":"#222","domainWidth":1,"tickSize":2,"tickColor":"#222","labelPadding":1,"labelFontSize":8,"labelColor":"#222"}},
                "x":{"field":"l","type":"quantitative","stack":null,"scale":{"domain":[0.4,2.6],"nice":false,"zero":false},"axis":{"values":[1,2],"tickCount":20,"labelExpr":"datum.value==1?'CD':'NF'","title":null,"domainColor":"#222","domainWidth":1,"tickSize":2,"tickColor":"#222","labelPadding":0.5,"labelFontSize":8,"labelColor":"#222"}},
                "x2":{"field":"r"},"detail":{"field":"g"},
                "fill":{"field":"m","type":"nominal","scale":{"domain":["Chao1","observed_species","Shannon","Simpson"],"range":["#7fcdbb","#f5a65b","#ee7c69","#70a7cd"]},"legend":{"orient":"none","legendX":42,"legendY":280,"direction":"horizontal","columns":4,"title":null,"symbolType":"square","symbolSize":64,"symbolStrokeColor":"#333","symbolStrokeWidth":0.6,"symbolOpacity":1,"labelFontSize":7.5,"labelColor":"#222","columnPadding":4.5,"labelOffset":3}}}},
              {"data":{"name":"dbox"},"transform":[{"filter":"datum.m=='Chao1'"}],"mark":{"type":"rule","color":"#222","strokeWidth":0.7},
               "encoding":{"x":{"field":"gx","type":"quantitative","scale":{"domain":[0.4,2.6],"nice":false,"zero":false}},"y":{"field":"lo","type":"quantitative","scale":{"domain":[-46,377],"nice":false,"zero":false}},"y2":{"field":"q1"}}},
              {"data":{"name":"dbox"},"transform":[{"filter":"datum.m=='Chao1'"}],"mark":{"type":"rule","color":"#222","strokeWidth":0.7},
               "encoding":{"x":{"field":"gx","type":"quantitative","scale":{"domain":[0.4,2.6],"nice":false,"zero":false}},"y":{"field":"q3","type":"quantitative","scale":{"domain":[-46,377],"nice":false,"zero":false}},"y2":{"field":"hi"}}},
              {"data":{"name":"dbox"},"transform":[{"filter":"datum.m=='Chao1'"}],"mark":{"type":"bar","size":12,"fillOpacity":0,"stroke":"#222","strokeWidth":0.7},
               "encoding":{"x":{"field":"gx","type":"quantitative","scale":{"domain":[0.4,2.6],"nice":false,"zero":false}},"y":{"field":"q1","type":"quantitative","scale":{"domain":[-46,377],"nice":false,"zero":false}},"y2":{"field":"q3"}}},
              {"data":{"name":"dbox"},"transform":[{"filter":"datum.m=='Chao1'"}],"mark":{"type":"tick","orient":"horizontal","size":12,"thickness":1.3,"color":"#222"},
               "encoding":{"x":{"field":"gx","type":"quantitative","scale":{"domain":[0.4,2.6],"nice":false,"zero":false}},"y":{"field":"md","type":"quantitative","scale":{"domain":[-46,377],"nice":false,"zero":false}}}},
              {"data":{"name":"dbox"},"transform":[{"filter":"datum.m=='Chao1'"}],"mark":{"type":"point","filled":true,"size":14,"opacity":1,"color":"#000"},
               "encoding":{"x":{"field":"gx","type":"quantitative","scale":{"domain":[0.4,2.6],"nice":false,"zero":false}},"y":{"field":"mean","type":"quantitative","scale":{"domain":[-46,377],"nice":false,"zero":false}}}},
              {"data":{"name":"dns"},"transform":[{"filter":"datum.m=='Chao1'"}],"mark":{"type":"text","fontSize":6,"color":"#333"},
               "encoding":{"x":{"datum":1.5,"type":"quantitative","scale":{"domain":[0.4,2.6],"nice":false,"zero":false}},"y":{"field":"v","type":"quantitative","scale":{"domain":[-46,377],"nice":false,"zero":false}},"text":{"field":"t"}}}
             ]}
           ],"spacing":0,"bounds":"flush"},
          {"vconcat":[
            {"width":130,"height":11,"data":{"values":[{"t":"observed_species"}]},"mark":{"type":"text","fontSize":8.8,"color":"#333","baseline":"middle"},"encoding":{"text":{"field":"t"}},"view":{"stroke":"#333","strokeWidth":1}},
            {"width":130,"height":110,
             "layer":[
              {"data":{"name":"dviol"},"transform":[{"filter":"datum.m=='observed_species'"}],"mark":{"type":"area","orient":"horizontal","interpolate":"monotone"},
               "encoding":{"y":{"field":"v","type":"quantitative","scale":{"domain":[-46,377],"nice":false,"zero":false},"axis":{"values":[0,100,200,300],"tickCount":20,"labelOverlap":false,"format":"d","title":" ","titleFontSize":1,"titlePadding":0,"minExtent":20,"maxExtent":20,"domainColor":"#222","domainWidth":1,"tickSize":2,"tickColor":"#222","labelPadding":1,"labelFontSize":8,"labelColor":"#222"}},
                "x":{"field":"l","type":"quantitative","stack":null,"scale":{"domain":[0.4,2.6],"nice":false,"zero":false},"axis":{"values":[1,2],"tickCount":20,"labelExpr":"datum.value==1?'CD':'NF'","title":null,"domainColor":"#222","domainWidth":1,"tickSize":2,"tickColor":"#222","labelPadding":0.5,"labelFontSize":8,"labelColor":"#222"}},
                "x2":{"field":"r"},"detail":{"field":"g"},
                "fill":{"field":"m","type":"nominal","scale":{"domain":["Chao1","observed_species","Shannon","Simpson"],"range":["#7fcdbb","#f5a65b","#ee7c69","#70a7cd"]},"legend":{"orient":"none","legendX":42,"legendY":280,"direction":"horizontal","columns":4,"title":null,"symbolType":"square","symbolSize":64,"symbolStrokeColor":"#333","symbolStrokeWidth":0.6,"symbolOpacity":1,"labelFontSize":7.5,"labelColor":"#222","columnPadding":4.5,"labelOffset":3}}}},
              {"data":{"name":"dbox"},"transform":[{"filter":"datum.m=='observed_species'"}],"mark":{"type":"rule","color":"#222","strokeWidth":0.7},
               "encoding":{"x":{"field":"gx","type":"quantitative","scale":{"domain":[0.4,2.6],"nice":false,"zero":false}},"y":{"field":"lo","type":"quantitative","scale":{"domain":[-46,377],"nice":false,"zero":false}},"y2":{"field":"q1"}}},
              {"data":{"name":"dbox"},"transform":[{"filter":"datum.m=='observed_species'"}],"mark":{"type":"rule","color":"#222","strokeWidth":0.7},
               "encoding":{"x":{"field":"gx","type":"quantitative","scale":{"domain":[0.4,2.6],"nice":false,"zero":false}},"y":{"field":"q3","type":"quantitative","scale":{"domain":[-46,377],"nice":false,"zero":false}},"y2":{"field":"hi"}}},
              {"data":{"name":"dbox"},"transform":[{"filter":"datum.m=='observed_species'"}],"mark":{"type":"bar","size":12,"fillOpacity":0,"stroke":"#222","strokeWidth":0.7},
               "encoding":{"x":{"field":"gx","type":"quantitative","scale":{"domain":[0.4,2.6],"nice":false,"zero":false}},"y":{"field":"q1","type":"quantitative","scale":{"domain":[-46,377],"nice":false,"zero":false}},"y2":{"field":"q3"}}},
              {"data":{"name":"dbox"},"transform":[{"filter":"datum.m=='observed_species'"}],"mark":{"type":"tick","orient":"horizontal","size":12,"thickness":1.3,"color":"#222"},
               "encoding":{"x":{"field":"gx","type":"quantitative","scale":{"domain":[0.4,2.6],"nice":false,"zero":false}},"y":{"field":"md","type":"quantitative","scale":{"domain":[-46,377],"nice":false,"zero":false}}}},
              {"data":{"name":"dbox"},"transform":[{"filter":"datum.m=='observed_species'"}],"mark":{"type":"point","filled":true,"size":14,"opacity":1,"color":"#000"},
               "encoding":{"x":{"field":"gx","type":"quantitative","scale":{"domain":[0.4,2.6],"nice":false,"zero":false}},"y":{"field":"mean","type":"quantitative","scale":{"domain":[-46,377],"nice":false,"zero":false}}}},
              {"data":{"name":"dns"},"transform":[{"filter":"datum.m=='observed_species'"}],"mark":{"type":"text","fontSize":6,"color":"#333"},
               "encoding":{"x":{"datum":1.5,"type":"quantitative","scale":{"domain":[0.4,2.6],"nice":false,"zero":false}},"y":{"field":"v","type":"quantitative","scale":{"domain":[-46,377],"nice":false,"zero":false}},"text":{"field":"t"}}}
             ]}
           ],"spacing":0,"bounds":"flush"}
         ],"spacing":0},
         {"hconcat":[
          {"vconcat":[
            {"width":130,"height":11,"data":{"values":[{"t":"Shannon"}]},"mark":{"type":"text","fontSize":8.8,"color":"#333","baseline":"middle"},"encoding":{"text":{"field":"t"}},"view":{"stroke":"#333","strokeWidth":1}},
            {"width":130,"height":110,
             "layer":[
              {"data":{"name":"dviol"},"transform":[{"filter":"datum.m=='Shannon'"}],"mark":{"type":"area","orient":"horizontal","interpolate":"monotone"},
               "encoding":{"y":{"field":"v","type":"quantitative","scale":{"domain":[1.9,7.45],"nice":false,"zero":false},"axis":{"values":[2,3,4,5,6,7],"tickCount":20,"labelOverlap":false,"format":"d","title":" ","titleFontSize":1,"titlePadding":0,"minExtent":20,"maxExtent":20,"domainColor":"#222","domainWidth":1,"tickSize":2,"tickColor":"#222","labelPadding":1,"labelFontSize":8,"labelColor":"#222"}},
                "x":{"field":"l","type":"quantitative","stack":null,"scale":{"domain":[0.4,2.6],"nice":false,"zero":false},"axis":{"values":[1,2],"tickCount":20,"labelExpr":"datum.value==1?'CD':'NF'","title":null,"domainColor":"#222","domainWidth":1,"tickSize":2,"tickColor":"#222","labelPadding":0.5,"labelFontSize":8,"labelColor":"#222"}},
                "x2":{"field":"r"},"detail":{"field":"g"},
                "fill":{"field":"m","type":"nominal","scale":{"domain":["Chao1","observed_species","Shannon","Simpson"],"range":["#7fcdbb","#f5a65b","#ee7c69","#70a7cd"]},"legend":{"orient":"none","legendX":42,"legendY":280,"direction":"horizontal","columns":4,"title":null,"symbolType":"square","symbolSize":64,"symbolStrokeColor":"#333","symbolStrokeWidth":0.6,"symbolOpacity":1,"labelFontSize":7.5,"labelColor":"#222","columnPadding":4.5,"labelOffset":3}}}},
              {"data":{"name":"dbox"},"transform":[{"filter":"datum.m=='Shannon'"}],"mark":{"type":"rule","color":"#222","strokeWidth":0.7},
               "encoding":{"x":{"field":"gx","type":"quantitative","scale":{"domain":[0.4,2.6],"nice":false,"zero":false}},"y":{"field":"lo","type":"quantitative","scale":{"domain":[1.9,7.45],"nice":false,"zero":false}},"y2":{"field":"q1"}}},
              {"data":{"name":"dbox"},"transform":[{"filter":"datum.m=='Shannon'"}],"mark":{"type":"rule","color":"#222","strokeWidth":0.7},
               "encoding":{"x":{"field":"gx","type":"quantitative","scale":{"domain":[0.4,2.6],"nice":false,"zero":false}},"y":{"field":"q3","type":"quantitative","scale":{"domain":[1.9,7.45],"nice":false,"zero":false}},"y2":{"field":"hi"}}},
              {"data":{"name":"dbox"},"transform":[{"filter":"datum.m=='Shannon'"}],"mark":{"type":"bar","size":12,"fillOpacity":0,"stroke":"#222","strokeWidth":0.7},
               "encoding":{"x":{"field":"gx","type":"quantitative","scale":{"domain":[0.4,2.6],"nice":false,"zero":false}},"y":{"field":"q1","type":"quantitative","scale":{"domain":[1.9,7.45],"nice":false,"zero":false}},"y2":{"field":"q3"}}},
              {"data":{"name":"dbox"},"transform":[{"filter":"datum.m=='Shannon'"}],"mark":{"type":"tick","orient":"horizontal","size":12,"thickness":1.3,"color":"#222"},
               "encoding":{"x":{"field":"gx","type":"quantitative","scale":{"domain":[0.4,2.6],"nice":false,"zero":false}},"y":{"field":"md","type":"quantitative","scale":{"domain":[1.9,7.45],"nice":false,"zero":false}}}},
              {"data":{"name":"dbox"},"transform":[{"filter":"datum.m=='Shannon'"}],"mark":{"type":"point","filled":true,"size":14,"opacity":1,"color":"#000"},
               "encoding":{"x":{"field":"gx","type":"quantitative","scale":{"domain":[0.4,2.6],"nice":false,"zero":false}},"y":{"field":"mean","type":"quantitative","scale":{"domain":[1.9,7.45],"nice":false,"zero":false}}}},
              {"data":{"name":"dout"},"transform":[{"filter":"datum.m=='Shannon'"}],"mark":{"type":"point","filled":true,"size":7,"opacity":1,"color":"#000"},
               "encoding":{"x":{"field":"gx","type":"quantitative","scale":{"domain":[0.4,2.6],"nice":false,"zero":false}},"y":{"field":"v","type":"quantitative","scale":{"domain":[1.9,7.45],"nice":false,"zero":false}}}},
              {"data":{"name":"dns"},"transform":[{"filter":"datum.m=='Shannon'"}],"mark":{"type":"text","fontSize":6,"color":"#333"},
               "encoding":{"x":{"datum":1.5,"type":"quantitative","scale":{"domain":[0.4,2.6],"nice":false,"zero":false}},"y":{"field":"v","type":"quantitative","scale":{"domain":[1.9,7.45],"nice":false,"zero":false}},"text":{"field":"t"}}}
             ]}
           ],"spacing":0,"bounds":"flush"},
          {"vconcat":[
            {"width":130,"height":11,"data":{"values":[{"t":"Simpson"}]},"mark":{"type":"text","fontSize":8.8,"color":"#333","baseline":"middle"},"encoding":{"text":{"field":"t"}},"view":{"stroke":"#333","strokeWidth":1}},
            {"width":130,"height":110,
             "layer":[
              {"data":{"name":"dviol"},"transform":[{"filter":"datum.m=='Simpson'"}],"mark":{"type":"area","orient":"horizontal","interpolate":"monotone"},
               "encoding":{"y":{"field":"v","type":"quantitative","scale":{"domain":[0.757,1.035],"nice":false,"zero":false},"axis":{"values":[0.8,0.85,0.9,0.95,1.0],"tickCount":20,"labelOverlap":false,"format":".2f","title":" ","titleFontSize":1,"titlePadding":0,"minExtent":20,"maxExtent":20,"domainColor":"#222","domainWidth":1,"tickSize":2,"tickColor":"#222","labelPadding":1,"labelFontSize":8,"labelColor":"#222"}},
                "x":{"field":"l","type":"quantitative","stack":null,"scale":{"domain":[0.4,2.6],"nice":false,"zero":false},"axis":{"values":[1,2],"tickCount":20,"labelExpr":"datum.value==1?'CD':'NF'","title":null,"domainColor":"#222","domainWidth":1,"tickSize":2,"tickColor":"#222","labelPadding":0.5,"labelFontSize":8,"labelColor":"#222"}},
                "x2":{"field":"r"},"detail":{"field":"g"},
                "fill":{"field":"m","type":"nominal","scale":{"domain":["Chao1","observed_species","Shannon","Simpson"],"range":["#7fcdbb","#f5a65b","#ee7c69","#70a7cd"]},"legend":{"orient":"none","legendX":42,"legendY":280,"direction":"horizontal","columns":4,"title":null,"symbolType":"square","symbolSize":64,"symbolStrokeColor":"#333","symbolStrokeWidth":0.6,"symbolOpacity":1,"labelFontSize":7.5,"labelColor":"#222","columnPadding":4.5,"labelOffset":3}}}},
              {"data":{"name":"dbox"},"transform":[{"filter":"datum.m=='Simpson'"}],"mark":{"type":"rule","color":"#222","strokeWidth":0.7},
               "encoding":{"x":{"field":"gx","type":"quantitative","scale":{"domain":[0.4,2.6],"nice":false,"zero":false}},"y":{"field":"lo","type":"quantitative","scale":{"domain":[0.757,1.035],"nice":false,"zero":false}},"y2":{"field":"q1"}}},
              {"data":{"name":"dbox"},"transform":[{"filter":"datum.m=='Simpson'"}],"mark":{"type":"rule","color":"#222","strokeWidth":0.7},
               "encoding":{"x":{"field":"gx","type":"quantitative","scale":{"domain":[0.4,2.6],"nice":false,"zero":false}},"y":{"field":"q3","type":"quantitative","scale":{"domain":[0.757,1.035],"nice":false,"zero":false}},"y2":{"field":"hi"}}},
              {"data":{"name":"dbox"},"transform":[{"filter":"datum.m=='Simpson'"}],"mark":{"type":"bar","size":12,"fillOpacity":0,"stroke":"#222","strokeWidth":0.7},
               "encoding":{"x":{"field":"gx","type":"quantitative","scale":{"domain":[0.4,2.6],"nice":false,"zero":false}},"y":{"field":"q1","type":"quantitative","scale":{"domain":[0.757,1.035],"nice":false,"zero":false}},"y2":{"field":"q3"}}},
              {"data":{"name":"dbox"},"transform":[{"filter":"datum.m=='Simpson'"}],"mark":{"type":"tick","orient":"horizontal","size":12,"thickness":1.3,"color":"#222"},
               "encoding":{"x":{"field":"gx","type":"quantitative","scale":{"domain":[0.4,2.6],"nice":false,"zero":false}},"y":{"field":"md","type":"quantitative","scale":{"domain":[0.757,1.035],"nice":false,"zero":false}}}},
              {"data":{"name":"dbox"},"transform":[{"filter":"datum.m=='Simpson'"}],"mark":{"type":"point","filled":true,"size":14,"opacity":1,"color":"#000"},
               "encoding":{"x":{"field":"gx","type":"quantitative","scale":{"domain":[0.4,2.6],"nice":false,"zero":false}},"y":{"field":"mean","type":"quantitative","scale":{"domain":[0.757,1.035],"nice":false,"zero":false}}}},
              {"data":{"name":"dout"},"transform":[{"filter":"datum.m=='Simpson'"}],"mark":{"type":"point","filled":true,"size":7,"opacity":1,"color":"#000"},
               "encoding":{"x":{"field":"gx","type":"quantitative","scale":{"domain":[0.4,2.6],"nice":false,"zero":false}},"y":{"field":"v","type":"quantitative","scale":{"domain":[0.757,1.035],"nice":false,"zero":false}}}},
              {"data":{"name":"dns"},"transform":[{"filter":"datum.m=='Simpson'"}],"mark":{"type":"text","fontSize":6,"color":"#333"},
               "encoding":{"x":{"datum":1.5,"type":"quantitative","scale":{"domain":[0.4,2.6],"nice":false,"zero":false}},"y":{"field":"v","type":"quantitative","scale":{"domain":[0.757,1.035],"nice":false,"zero":false}},"text":{"field":"t"}}}
             ]}
           ],"spacing":0,"bounds":"flush"}
         ],"spacing":0}
        ]}
      ]}
    ],"spacing":0,"resolve":{"scale":{"fill":"independent","color":"independent","stroke":"independent"}}}
   ],"spacing":0,"resolve":{"scale":{"fill":"independent","color":"independent","stroke":"independent"}}},
   {"hconcat":[
    {"width":1,"height":1,"data":{"values":[{}]},"mark":{"type":"rect","opacity":0}},
    {"width":121,"height":254,
     "title":{"text":"G","anchor":"start","frame":"group","dx":-75,"offset":-27,"baseline":"top","font":"Liberation Serif","fontSize":28,"fontWeight":"normal","color":"#000"},
     "data":{"name":"gdat"},
     "mark":{"type":"bar","stroke":"#333","strokeWidth":0.4},
     "encoding":{
      "x":{"field":"grp","type":"nominal","sort":["CD","NF"],"scale":{"paddingInner":0.108,"paddingOuter":0.144},"axis":{"title":null,"labelAngle":-45,"labelAlign":"right","labelBaseline":"top","labelFontSize":10,"labelFontWeight":"bold","labelColor":"#222","tickSize":3,"labelPadding":1,"tickColor":"#333","domainColor":"#333","domainWidth":1}},
      "y":{"field":"ab","type":"quantitative","stack":"zero","scale":{"domain":[-0.052,1.048],"nice":false,"zero":false},"axis":{"values":[0,0.25,0.5,0.75,1],"tickCount":20,"format":".2f","title":"Abundance of species(%)","titleFontSize":12.5,"titleFontWeight":"bold","titleColor":"#222","titlePadding":0.5,"labelFontSize":10,"labelFontWeight":"bold","labelColor":"#222","tickSize":3,"labelPadding":1,"tickColor":"#333","domainColor":"#333","domainWidth":1}},
      "fill":{"field":"sp","type":"nominal","scale":{"domain":["Faecalibacterium_prausnitzii","Ruminococcus_bromii","Blautia_wexlerae","Eubacterium_rectale","Bifidobacterium_pseudocatenulatum","Phocaeicola_vulgatus","Bifidobacterium_longum","Fusicatenibacter_saccharivorans","Ruminococcus_torques","Megamonas_funiformis","Blautia_massiliensis","Bacteroides_uniformis","Escherichia_coli","Phocaeicola_plebeius","Ruminococcus_sp_AF13_28","Anaerobutyricum_hallii","Alistipes_putredinis","Dorea_longicatena","Bifidobacterium_adolescentis","Prevotella_copri_clade_A","Others"],"range":["#ffb6c1","#ffa500","#0b7a36","#4fc9d9","#0a47a5","#7e1a80","#5a8bd6","#ff0000","#12b8c0","#a0522d","#ffe4c4","#6b3fa0","#f08080","#f5ea0a","#6a5acd","#c3da3f","#1db148","#2e6930","#172b5e","#2ec4b6","#ddf0ee"]},
       "legend":{"orient":"none","legendX":130,"legendY":8,"title":null,"direction":"vertical","columns":1,"symbolType":"square","symbolSize":72,"symbolStrokeColor":"#555","symbolStrokeWidth":0.7,"symbolOpacity":1,"labelFontSize":5.8,"labelFontStyle":"italic","labelFontWeight":"bold","labelColor":"#222","clipHeight":11,"rowPadding":0.4,"labelOffset":3,"labelLimit":200}},
      "order":{"field":"k","sort":"descending"}
     }}
   ],"spacing":0,"resolve":{"scale":{"fill":"independent","color":"independent","stroke":"independent"}}}
  ],"spacing":76,"resolve":{"scale":{"fill":"independent","color":"independent","stroke":"independent"}}}
 ],"spacing":19.5,"resolve":{"scale":{"fill":"independent","color":"independent","stroke":"independent"}}}
]
}
